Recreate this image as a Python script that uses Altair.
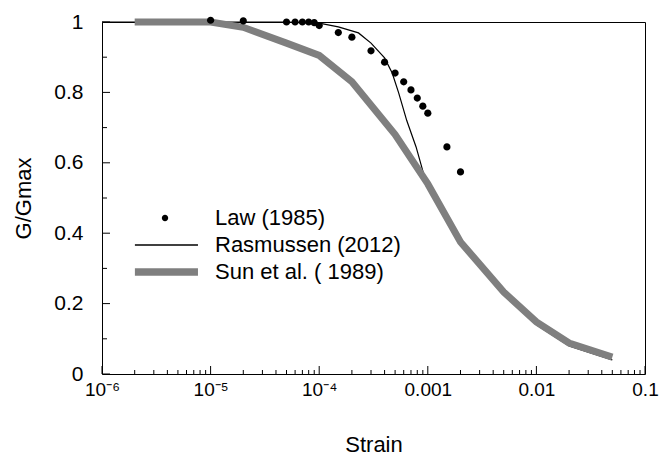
import altair as alt
import pandas as pd

# ---------------- data ----------------
series_names = ["Law (1985)", "Rasmussen (2012)", "Sun et al. ( 1989)"]

law_strain = [1e-5, 2e-5, 5e-5, 6e-5, 7e-5, 8e-5, 9e-5, 1e-4, 1.5e-4, 2e-4,
              3e-4, 4e-4, 5e-4, 6e-4, 7e-4, 8e-4, 9e-4, 1e-3, 1.5e-3, 2e-3]
law_ratio = [1.005, 1.003, 1.0, 1.0, 1.0, 1.0, 0.998, 0.99, 0.97, 0.957,
             0.918, 0.886, 0.855, 0.83, 0.807, 0.784, 0.761, 0.741, 0.645, 0.574]

ras_strain = [1e-6, 1e-5, 5e-5, 1e-4, 1.5e-4, 2.3e-4, 3e-4, 4e-4, 4.7e-4, 5.4e-4,
              6.4e-4, 7.8e-4, 9.5e-4, 1e-3, 2e-3, 5e-3, 1e-2, 2e-2, 5e-2]
ras_ratio = [1.0, 1.0, 1.0, 0.997, 0.986, 0.969, 0.94, 0.898, 0.855, 0.798,
             0.72, 0.645, 0.551, 0.535, 0.37, 0.225, 0.14, 0.08, 0.04]

sun_strain = [2e-6, 1e-5, 2e-5, 5e-5, 1e-4, 2e-4, 5e-4, 1e-3, 2e-3, 5e-3, 1e-2, 2e-2, 5e-2]
sun_ratio = [1.0, 1.0, 0.985, 0.94, 0.905, 0.83, 0.68, 0.54, 0.375, 0.233, 0.148, 0.088, 0.048]

x_major = [1e-6, 1e-5, 1e-4, 1e-3, 1e-2, 1e-1]
x_labels = ["10\u207b\u2076", "10\u207b\u2075", "10\u207b\u2074", "0.001", "0.01", "0.1"]
x_minor = [m * d for d in [1e-6, 1e-5, 1e-4, 1e-3, 1e-2] for m in range(2, 10)]
y_major = [0, 0.2, 0.4, 0.6, 0.8, 1.0]
y_minor = [0.1, 0.3, 0.5, 0.7, 0.9]

# ---------------- tables ----------------
law_df = pd.DataFrame({"strain": law_strain, "ratio": law_ratio, "series": series_names[0]})
ras_df = pd.DataFrame({"strain": ras_strain, "ratio": ras_ratio, "series": series_names[1]})
sun_df = pd.DataFrame({"strain": sun_strain, "ratio": sun_ratio, "series": series_names[2]})

FONT = "Liberation Sans"
GRAY = "#7f7f7f"
W, H = 543, 352

x_scale = alt.Scale(type="log", domain=[1e-6, 0.1], nice=False)
y_scale = alt.Scale(domain=[0, 1], nice=False)

label_js = "[" + ",".join("'" + s + "'" for s in x_labels) + "]"
x_label_expr = label_js + "[round(log(datum.value)/LN10)+6]"

# legend symbols (custom paths, unit = sqrt(size)/2 px)
circle_path = "M1,0A1,1 0 1,1 -1,0A1,1 0 1,1 1,0Z"
thin_path = "M-9.4,-0.2H10.3V0.2H-9.4Z"
thick_path = "M-9.4,-1.15H10.3V1.15H-9.4Z"

legend = alt.Legend(
    orient="none", legendX=52, legendY=185, title=None, padding=0,
    labelFont=FONT, labelFontSize=22, labelColor="black", labelOffset=39,
    labelLimit=0, rowPadding=5, symbolSize=41, symbolStrokeWidth=0, symbolOpacity=1,
)

# inward tick marks, drawn through the shared scales
def x_ticks(values, length):
    return alt.Chart(pd.DataFrame({"strain": values})).mark_rule(
        color="black", strokeWidth=1).encode(
        x=alt.X("strain:Q", scale=x_scale, axis=None),
        y=alt.value(H), y2=alt.value(H - length))

def y_ticks(values, length):
    return alt.Chart(pd.DataFrame({"ratio": values})).mark_rule(
        color="black", strokeWidth=1).encode(
        y=alt.Y("ratio:Q", scale=y_scale, axis=None),
        x=alt.value(0), x2=alt.value(length))

# Rasmussen: thin black line
ras = alt.Chart(ras_df).mark_line(stroke="black", strokeWidth=1.2).encode(
    x=alt.X("strain:Q", scale=x_scale, axis=None),
    y=alt.Y("ratio:Q", scale=y_scale, axis=None),
)

# Sun et al.: thick gray line, carries axis labels and titles
sun = alt.Chart(sun_df).mark_line(stroke=GRAY, strokeWidth=7).encode(
    x=alt.X("strain:Q", scale=x_scale,
            axis=alt.Axis(orient="bottom", ticks=False, values=x_major,
                          labelExpr=x_label_expr, domain=False, grid=False,
                          labelPadding=6, labelFont=FONT, labelFontSize=19,
                          labelColor="black", labelFlush=False, labelOverlap=False,
                          title="Strain", titleFont=FONT, titleFontSize=22,
                          titleFontWeight="normal", titleColor="black",
                          titleBaseline="alphabetic", titleY=77)),
    y=alt.Y("ratio:Q", scale=y_scale,
            axis=alt.Axis(orient="left", ticks=False, values=y_major,
                          format="~g", domain=False, grid=False,
                          labelPadding=19, labelFont=FONT, labelFontSize=21,
                          labelColor="black", labelFlush=False, labelOverlap=False,
                          title="G/Gmax", titleFont=FONT, titleFontSize=22,
                          titleFontWeight="normal", titleColor="black",
                          titleAngle=270, titleBaseline="alphabetic",
                          titleAlign="center", titleX=-72, titleY=176)),
)

# Law: black dots, carries the legend
law = alt.Chart(law_df).mark_point(filled=True, opacity=1, size=52).encode(
    x=alt.X("strain:Q", scale=x_scale, axis=None),
    y=alt.Y("ratio:Q", scale=y_scale, axis=None),
    color=alt.Color("series:N",
                    scale=alt.Scale(domain=series_names, range=["black", "black", GRAY]),
                    legend=legend),
    shape=alt.Shape("series:N",
                    scale=alt.Scale(domain=series_names,
                                    range=[circle_path, thin_path, thick_path]),
                    legend=legend),
)

chart = alt.layer(
    x_ticks(x_major, 8), x_ticks(x_minor, 4), y_ticks(y_major, 8), y_ticks(y_minor, 5),
    ras, sun, law,
).resolve_axis(
    x="independent", y="independent"
).properties(
    width=W, height=H,
    autosize=alt.AutoSizeParams(type="none"),
    padding={"left": 94, "top": 14, "right": 14, "bottom": 81},
).configure_view(stroke="black", strokeWidth=1)

chart.save("out.html", embed_options={"renderer": "svg", "actions": False})
